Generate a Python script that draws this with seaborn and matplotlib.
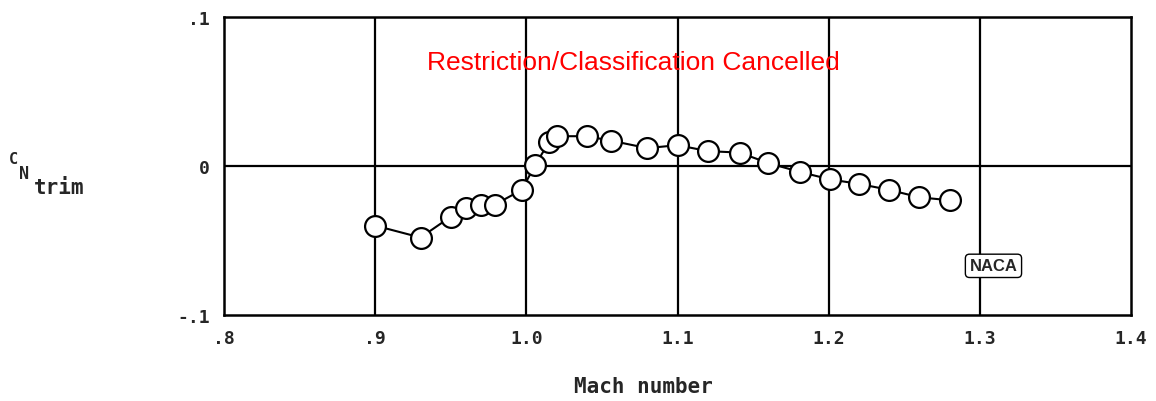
import numpy as np
import pandas as pd
import matplotlib
matplotlib.use("Agg")
import matplotlib.pyplot as plt
import seaborn as sns

# data
mach = [0.900, 0.930, 0.950, 0.960, 0.970, 0.979, 0.997, 1.006, 1.015, 1.020,
        1.040, 1.056, 1.080, 1.100, 1.120, 1.141, 1.160, 1.181, 1.201, 1.220,
        1.240, 1.260, 1.280]
cn_trim = [-0.040, -0.048, -0.034, -0.028, -0.026, -0.026, -0.016, 0.001, 0.016, 0.020,
           0.020, 0.017, 0.012, 0.014, 0.010, 0.009, 0.002, -0.004, -0.009, -0.012,
           -0.016, -0.021, -0.023]
x_ticks = [0.8, 0.9, 1.0, 1.1, 1.2, 1.3, 1.4]
x_labels = [".8", ".9", "1.0", "1.1", "1.2", "1.3", "1.4"]
y_ticks = [-0.1, 0, 0.1]
y_labels = ["-.1", "0", ".1"]

df = pd.DataFrame({"mach": mach, "cn": cn_trim})

sns.set_style("white")
plt.rcParams["font.family"] = ["DejaVu Sans Mono"]

fig = plt.figure(figsize=(11.56, 4.02), dpi=100)
ax = fig.add_axes([0.1938, 0.2139, 0.7846, 0.7413])

# grid lines
for xv in [0.9, 1.0, 1.1, 1.2, 1.3]:
    ax.axvline(xv, color="black", lw=1.6, zorder=1)
ax.axhline(0, color="black", lw=1.6, zorder=1)

sns.lineplot(data=df, x="mach", y="cn", sort=False, ax=ax, color="black", lw=1.5,
             marker="o", markersize=15, markerfacecolor="white",
             markeredgecolor="black", markeredgewidth=1.6, zorder=3)

ax.set_xlim(0.8, 1.4)
ax.set_ylim(-0.1, 0.1)
ax.set_xticks(x_ticks)
ax.set_xticklabels(x_labels, fontsize=13, fontweight="bold")
ax.set_yticks(y_ticks)
ax.set_yticklabels(y_labels, fontsize=13, fontweight="bold")
ax.tick_params(length=0, pad=10)
ax.set_xlabel("Mach number", fontsize=15, fontweight="bold")
ax.xaxis.set_label_coords(0.462, -0.205)
ax.set_ylabel("")
for s in ax.spines.values():
    s.set_color("black")
    s.set_linewidth(1.8)

# y label C_N_trim
fig.text(13 / 1156, 1 - 160 / 402, "C", fontsize=11, fontweight="bold", ha="center", va="center")
fig.text(24 / 1156, 1 - 174 / 402, "N", fontsize=12, fontweight="bold", ha="center", va="center")
fig.text(59 / 1156, 1 - 188 / 402, "trim", fontsize=15, fontweight="bold", ha="center", va="center")

# stamp
ax.text(1.071, 0.0695, "Restriction/Classification Cancelled", color="red",
        fontsize=19, family="Liberation Sans", ha="center", va="center")

# NACA logo text
ax.text(1.309, -0.067, "NACA", fontsize=12, family="Liberation Sans", fontweight="bold",
        ha="center", va="center",
        bbox=dict(boxstyle="round,pad=0.25", fc="white", ec="black", lw=1.0))

fig.savefig("out.png", dpi=100)
